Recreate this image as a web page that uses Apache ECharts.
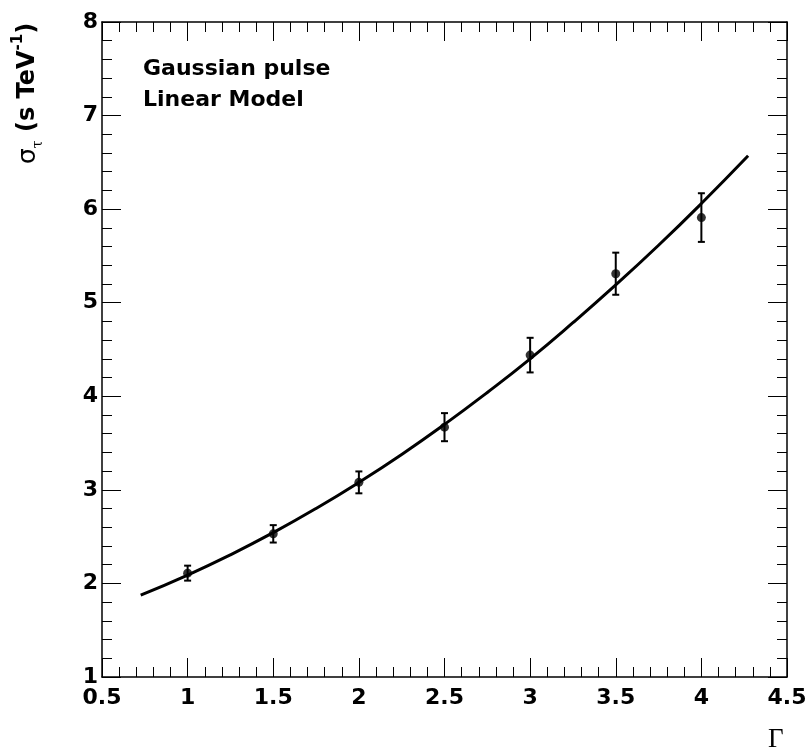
<!DOCTYPE html>
<html>
<head>
<meta charset="utf-8">
<script src="https://cdn.jsdelivr.net/npm/echarts@6/dist/echarts.min.js"></script>
<style>
  html, body { margin: 0; padding: 0; background: #fff; }
  #chart { width: 810px; height: 755px; }
</style>
</head>
<body>
<div id="chart"></div>
<script>
// Measured points: spectral index Γ vs. σ_τ with symmetric errors
const gammaValues = [1.0, 1.5, 2.0, 2.5, 3.0, 3.5, 4.0];
const sigmaValues = [2.11, 2.53, 3.08, 3.67, 4.44, 5.31, 5.91];
const sigmaErrors = [0.08, 0.093, 0.117, 0.15, 0.185, 0.225, 0.26];

// Fitted curve samples
const curveX = [0.726, 1.0, 1.25, 1.5, 1.75, 2.0, 2.25, 2.5, 2.75, 3.0, 3.25, 3.5, 3.75, 4.0, 4.273];
const curveY = [1.875, 2.09, 2.306, 2.543, 2.801, 3.08, 3.379, 3.70, 4.041, 4.40, 4.786, 5.19, 5.614, 6.06, 6.57];

// Axis ranges and steps
const xRange = [0.5, 4.5];
const xStep = 0.5;
const yRange = [1, 8];
const yStep = 1;

const annotationLines = ['Gaussian pulse', 'Linear Model'];

const points = gammaValues.map((g, i) => [g, sigmaValues[i], sigmaErrors[i]]);
const curve = curveX.map((x, i) => [x, curveY[i]]);

const boldFamily = '"DejaVu Sans", "Liberation Sans", Arial, sans-serif';

const labelFont = {
  fontFamily: boldFamily,
  fontWeight: 'bold',
  fontSize: 22,
  color: '#000'
};

function valueAxis(kind, show, range, step) {
  return {
    type: 'value',
    min: range[0],
    max: range[1],
    interval: step,
    position: kind,
    axisLine: { show: true, onZero: false, lineStyle: { color: '#000', width: 1.5 } },
    axisTick: { show: true, inside: true, length: 19, lineStyle: { color: '#000', width: 1 } },
    minorTick: { show: true, splitNumber: 5, length: 10, lineStyle: { color: '#000', width: 1 } },
    splitLine: { show: false },
    axisLabel: show ? Object.assign({
      show: true,
      margin: (kind === 'bottom') ? 10 : 4,
      showMinLabel: true,
      showMaxLabel: true
    }, labelFont) : { show: false }
  };
}

const chart = echarts.init(document.getElementById('chart'), null, { renderer: 'canvas' });

chart.setOption({
  backgroundColor: '#fff',
  animation: false,
  grid: { left: 102, right: 23, top: 22, bottom: 78, containLabel: false },
  xAxis: [
    valueAxis('bottom', true, xRange, xStep),
    valueAxis('top', false, xRange, xStep)
  ],
  yAxis: [
    valueAxis('left', true, yRange, yStep),
    valueAxis('right', false, yRange, yStep)
  ],
  series: [
    {
      type: 'line',
      data: curve,
      smooth: true,
      showSymbol: false,
      lineStyle: { color: '#000', width: 3 },
      z: 3
    },
    {
      // error bars with caps
      type: 'custom',
      data: points,
      renderItem: function (params, api) {
        const x = api.value(0);
        const y = api.value(1);
        const e = api.value(2);
        const top = api.coord([x, y + e]);
        const bot = api.coord([x, y - e]);
        const capW = 3.5;
        const style = { stroke: '#000', lineWidth: 2 };
        return {
          type: 'group',
          children: [
            { type: 'line', shape: { x1: top[0], y1: top[1], x2: bot[0], y2: bot[1] }, style: style },
            { type: 'line', shape: { x1: top[0] - capW, y1: top[1], x2: top[0] + capW, y2: top[1] }, style: style },
            { type: 'line', shape: { x1: bot[0] - capW, y1: bot[1], x2: bot[0] + capW, y2: bot[1] }, style: style }
          ]
        };
      },
      encode: { x: 0, y: 1 },
      z: 4
    },
    {
      type: 'scatter',
      data: points.map(p => [p[0], p[1]]),
      symbol: 'circle',
      symbolSize: 9,
      itemStyle: { color: '#000' },
      z: 5
    }
  ],
  graphic: [
    {
      type: 'text',
      left: 143,
      top: 58,
      style: Object.assign({ text: annotationLines[0] }, labelFont, { fontSize: 22 })
    },
    {
      type: 'text',
      left: 143,
      top: 89,
      style: Object.assign({ text: annotationLines[1] }, labelFont, { fontSize: 22 })
    },
    {
      // y-axis title, rotated
      type: 'text',
      x: 28,
      y: 164,
      rotation: Math.PI / 2,
      style: {
        text: '{s|σ}{t|τ}{m| (s TeV}{u|-1}{m|)}',
        fill: '#000',
        rich: {
          s: { fontFamily: boldFamily, fontSize: 25, lineHeight: 34, verticalAlign: 'middle' },
          t: { fontFamily: '"DejaVu Serif", serif', fontSize: 14, lineHeight: 34, verticalAlign: 'bottom' },
          m: { fontFamily: boldFamily, fontWeight: 'bold', fontSize: 24, lineHeight: 34, verticalAlign: 'middle' },
          u: { fontFamily: boldFamily, fontWeight: 'bold', fontSize: 15, lineHeight: 34, verticalAlign: 'top' }
        },
        verticalAlign: 'middle',
        align: 'left'
      }
    },
    {
      type: 'text',
      left: 768,
      top: 726,
      style: {
        text: 'Γ',
        fill: '#000',
        fontFamily: '"Liberation Serif", "Times New Roman", serif',
        fontSize: 27
      }
    }
  ]
});
</script>
</body>
</html>
